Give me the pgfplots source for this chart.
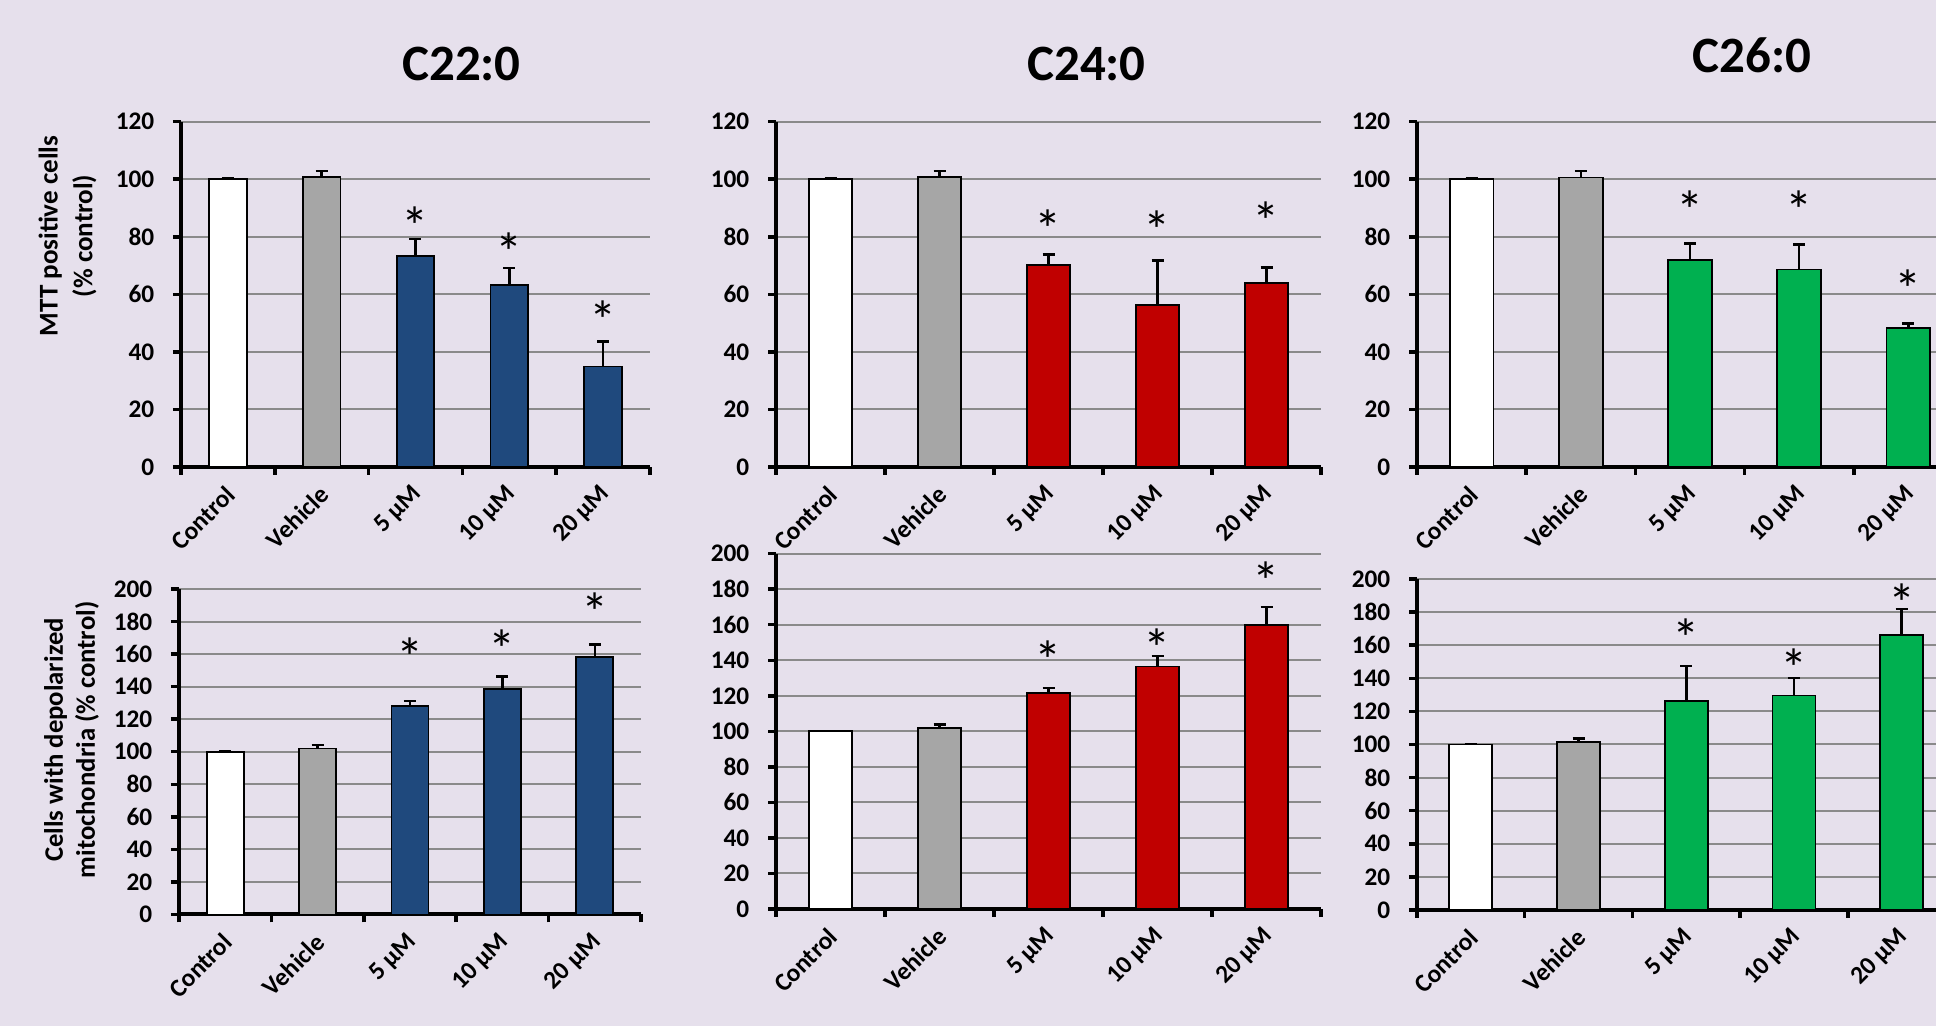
\documentclass[border=0pt]{standalone}
\usepackage{fontspec}
\setmainfont{Carlito}
\usepackage{pgfplots}
\pgfplotsset{compat=1.18}
\definecolor{bgcol}{HTML}{E6E0EC}
\definecolor{gridgray}{HTML}{8A8A8A}
\definecolor{bargray}{HTML}{A6A6A6}
\definecolor{cblue}{HTML}{1F497D}
\definecolor{cred}{HTML}{C00000}
\definecolor{cgreen}{HTML}{00B050}
\newcommand{\tickfont}{\fontsize{7.2}{8.6}\selectfont\bfseries}
\newcommand{\titlefont}{\fontsize{14.5}{17}\selectfont\bfseries}
\newcommand{\starfont}{\fontsize{15.5}{17}\selectfont}
\pgfplotsset{
  panel/.style={
    scale only axis, anchor=south west, at={(0,0)},
    xmin=-0.5, xmax=4.5, ymin=0,
    axis lines*=left,
    axis line style={-, line width=0.04cm, black},
    xtick={-0.5,0.5,1.5,2.5,3.5,4.5},
    xticklabels={,,,,,},
    extra x ticks={0,1,2,3,4},
    extra x tick labels={Control, Vehicle, 5 µM, 10 µM, 20 µM},
    extra x tick style={major tick length=0pt, tick style={draw=none}},
    tick align=outside,
    major tick length=0.08cm,
    major tick style={line width=0.035cm, black},
    ymajorgrids, grid style={line width=0.02cm, color=gridgray},
    tick label style={font=\tickfont},
    /pgf/number format/assume math mode=true,
    xticklabel style={xshift=0.03cm, rotate=45, anchor=east, inner sep=0pt},
    yticklabel style={anchor=east, inner sep=0pt},
    xticklabel shift=0.23cm, yticklabel shift=0.18cm,
    clip=false,
  },
  bars/.style={ybar, bar width=0.4, bar shift=0pt, draw=black, line width=0.018cm,
    /pgfplots/error bars/y dir=plus,
    /pgfplots/error bars/y explicit,
    /pgfplots/error bars/error bar style={line width=0.025cm, black},
    /pgfplots/error bars/error mark options={rotate=90, mark size=0.06cm, line width=0.025cm, black}},
  stars/.style={only marks, mark=*, mark size=0pt, mark options={draw=none, fill=none},
    nodes near coords={*},
    every node near coord/.append style={anchor=center, font=\starfont, inner sep=0pt, yshift=-0.1cm, text=black}},
}
\begin{document}
\begin{tikzpicture}
\useasboundingbox (0,0) rectangle (19.36,10.26);
\fill[bgcol] (0,0) rectangle (19.36,10.26);
\begin{scope}
\clip (0,0) rectangle (19.36,10.26);

% titles
\node[font=\titlefont] at (4.615,9.62) {C22:0};
\node[font=\titlefont] at (10.865,9.62) {C24:0};
\node[font=\titlefont] at (17.52,9.71) {C26:0};

% y labels
\node[rotate=90, align=center, font=\fontsize{7.7}{9.9}\selectfont\bfseries] at (0.675,7.90) {MTT positive cells\\(\% control)};
\node[rotate=90, align=center, font=\fontsize{7.6}{9.1}\selectfont\bfseries] at (0.715,2.86) {Cells with depolarized\\mitochondria (\% control)};

% ---- C22:0 MTT
\begin{axis}[panel, xshift=1.81cm, yshift=5.59cm, width=4.69cm, height=3.453cm, ymax=120, ytick={0,20,...,120}]
\addplot[bars, fill=white] coordinates {(0,100) +- (0,0.3)};
\addplot[bars, fill=bargray] coordinates {(1,100.7) +- (0,2.2)};
\addplot[bars, fill=cblue] coordinates {(2,73.3) +- (0,5.9) (3,63.2) +- (0,5.9) (4,34.9) +- (0,8.7)};
\addplot[stars] coordinates {(2,87.0) (3,78.3) (4,54.5)};
\end{axis}

% ---- C22:0 depolarized
\begin{axis}[panel, xshift=1.79cm, yshift=1.115cm, width=4.62cm, height=3.255cm, ymax=200, ytick={0,20,...,200}]
\addplot[bars, fill=white] coordinates {(0,100) +- (0,0.3)};
\addplot[bars, fill=bargray] coordinates {(1,102.0) +- (0,2.2)};
\addplot[bars, fill=cblue] coordinates {(2,128.3) +- (0,3.0) (3,138.3) +- (0,7.8) (4,158.3) +- (0,7.6)};
\addplot[stars] coordinates {(2,164) (3,169) (4,191.8)};
\end{axis}

% ---- C24:0 MTT
\begin{axis}[panel, xshift=7.76cm, yshift=5.59cm, width=5.45cm, height=3.453cm, ymax=120, ytick={0,20,...,120}]
\addplot[bars, fill=white] coordinates {(0,100) +- (0,0.3)};
\addplot[bars, fill=bargray] coordinates {(1,100.7) +- (0,2.2)};
\addplot[bars, fill=cred] coordinates {(2,70.3) +- (0,3.5) (3,56.4) +- (0,15.4) (4,64.0) +- (0,5.3)};
\addplot[stars] coordinates {(2,86.0) (3,85.8) (4,89.0)};
\end{axis}

% ---- C24:0 depolarized
\begin{axis}[panel, xshift=7.76cm, yshift=1.17cm, width=5.45cm, height=3.553cm, ymax=200, ytick={0,20,...,200}]
\addplot[bars, fill=white] coordinates {(0,100) +- (0,0.3)};
\addplot[bars, fill=bargray] coordinates {(1,101.7) +- (0,2.1)};
\addplot[bars, fill=cred] coordinates {(2,121.4) +- (0,3.0) (3,136.5) +- (0,5.8) (4,159.8) +- (0,10.3)};
\addplot[stars] coordinates {(2,145.7) (3,152.3) (4,190.2)};
\end{axis}

% ---- C26:0 MTT
\begin{axis}[panel, xshift=14.17cm, yshift=5.59cm, width=5.46cm, height=3.453cm, ymax=120, ytick={0,20,...,120}]
\addplot[bars, fill=white] coordinates {(0,100) +- (0,0.3)};
\addplot[bars, fill=bargray] coordinates {(1,100.6) +- (0,2.3)};
\addplot[bars, fill=cgreen] coordinates {(2,71.8) +- (0,5.8) (3,68.6) +- (0,8.8) (4,48.2) +- (0,1.6)};
\addplot[stars] coordinates {(2,92.7) (3,92.7) (4,65.1)};
\end{axis}

% ---- C26:0 depolarized
\begin{axis}[panel, xshift=14.17cm, yshift=1.16cm, width=5.385cm, height=3.31cm, ymax=200, ytick={0,20,...,200}]
\addplot[bars, fill=white] coordinates {(0,100) +- (0,0.3)};
\addplot[bars, fill=bargray] coordinates {(1,101.7) +- (0,2.0)};
\addplot[bars, fill=cgreen] coordinates {(2,126.1) +- (0,21.2) (3,129.6) +- (0,10.5) (4,166.3) +- (0,15.7)};
\addplot[stars] coordinates {(2,170.1) (3,152.0) (4,191.3)};
\end{axis}
\end{scope}
\end{tikzpicture}
\end{document}
